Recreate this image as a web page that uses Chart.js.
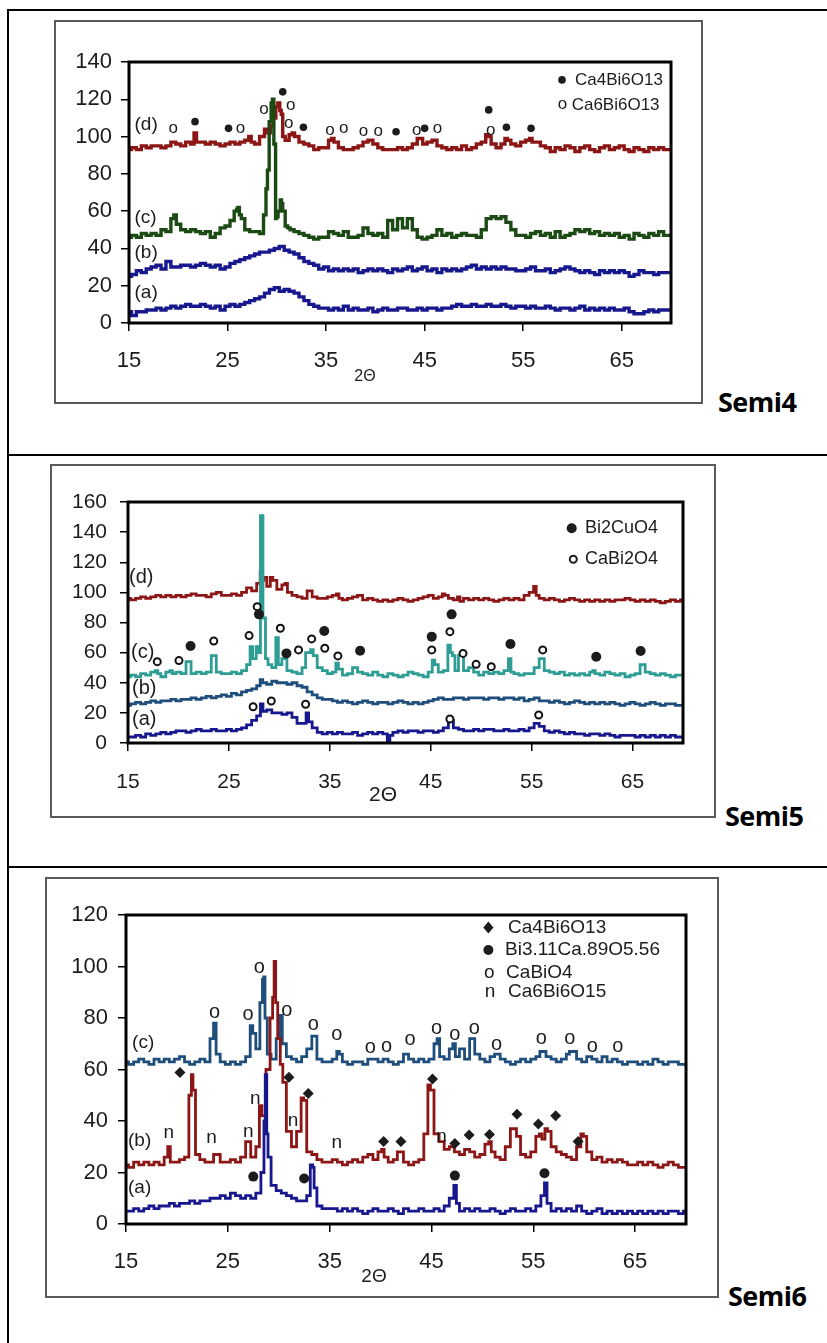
<!DOCTYPE html>
<html><head><meta charset="utf-8">
<script src="https://cdn.jsdelivr.net/npm/chart.js@4.4.1/dist/chart.umd.min.js"></script>
<style>
html,body{margin:0;padding:0;background:#fff;}
body{width:827px;height:1343px;position:relative;overflow:hidden;font-family:'Liberation Sans',Arial,sans-serif;}
.hl{position:absolute;background:#000;}
.box{position:absolute;border:2px solid #5a5a5a;box-sizing:border-box;}
canvas{position:absolute;}
.semi{position:absolute;font-family:'Open Sans',sans-serif;font-weight:700;font-size:27px;line-height:30px;color:#000;white-space:nowrap;letter-spacing:-0.5px;}
</style></head><body>
<canvas id="c1" width="649" height="384" style="left:54px;top:20px"></canvas>
<canvas id="c2" width="666" height="354" style="left:50px;top:464px"></canvas>
<canvas id="c3" width="674" height="421" style="left:45px;top:877px"></canvas>
<div class="box" style="left:54px;top:20px;width:649px;height:384px"></div>
<div class="box" style="left:50px;top:464px;width:666px;height:354px"></div>
<div class="box" style="left:45px;top:877px;width:674px;height:421px"></div>
<div class="hl" style="left:7px;top:9px;width:820px;height:2px"></div>
<div class="hl" style="left:7px;top:9px;width:2px;height:1334px"></div>
<div class="hl" style="left:7px;top:454px;width:820px;height:2px"></div>
<div class="hl" style="left:7px;top:866px;width:820px;height:2px"></div>
<div class="semi" style="left:718px;top:387px">Semi4</div>
<div class="semi" style="left:725px;top:801px">Semi5</div>
<div class="semi" style="left:728px;top:1281px">Semi6</div>
<script>
// ---------- axis ticks ----------
const xTicks = [15, 25, 35, 45, 55, 65];
const yTicksSemi4 = [0, 20, 40, 60, 80, 100, 120, 140];
const yTicksSemi5 = [0, 20, 40, 60, 80, 100, 120, 140, 160];
const yTicksSemi6 = [0, 20, 40, 60, 80, 100, 120];

// profiles are read at 2θ = 15, 15.5, 16 ... 70 ; peaks are extra [2θ, I] readings
const GRID_START = 15, GRID_STEP = 0.5;

// ---------- Semi4 ----------
const semi4_a = [6,4,6,6,7,7,8,7,8,9, 8,9,10,9,9,10,9,8,9,7, 9,10,9,10,11,12,13,14,16,18, 19,17,18,17,16,14,12,10,9,8,
  8,7,8,7,9,7,8,7,7,8, 6,7,8,7,7,8,8,7,7,8, 7,8,8,7,8,8,9,10,9,9, 10,9,9,10,9,9,10,9,8,9,
  9,8,9,8,8,9,8,7,8,8, 7,8,9,7,8,7,8,7,8,7, 7,8,6,5,5,6,7,6,7,7, 7];
const semi4_a_peaks = [];
const semi4_b = [25,26,28,27,29,30,31,29,33,30, 30,31,31,30,31,32,31,30,31,29, 30,32,33,34,35,36,37,38,38,39, 40,41,39,38,37,35,33,32,31,29,
  30,28,29,28,29,28,29,27,28,29, 28,29,28,27,29,28,29,30,28,29, 30,28,29,27,29,28,29,28,29,30, 31,29,30,29,30,29,30,29,29,28,
  28,29,30,28,28,29,27,28,29,30, 29,28,27,28,27,26,28,27,28,27, 28,27,25,26,28,27,27,26,27,27, 27];
const semi4_b_peaks = [];
const semi4_c = [46,47,46,48,47,48,47,50,49,56, 53,50,49,50,49,48,49,46,48,51, 52,55,61,56,50,49,49,48,72,118, 57,64,52,50,49,48,47,46,45,46,
  46,49,48,47,49,46,46,47,51,48, 47,48,46,55,50,56,51,56,50,46, 45,46,47,50,47,48,46,47,48,47, 47,46,50,56,57,56,57,54,50,47,
  47,46,48,49,47,48,46,49,46,47, 48,50,49,50,48,49,47,48,47,48, 46,47,45,48,47,46,48,47,49,47, 47];
const semi4_c_peaks = [[19.6,58],[25.85,60],[26.1,62],[26.3,58],[28.8,58],[29.1,82],[29.35,108],[29.6,120],[29.8,96],[29.95,56],[30.25,60],[30.45,66],[30.7,60],[31.2,51]];
const semi4_d = [93,94,93,95,94,95,95,94,95,97, 96,95,97,96,97,97,96,97,96,95, 96,97,96,97,98,97,96,100,104,106, 116,112,98,101,100,97,96,95,93,94,
  94,98,97,94,93,93,94,95,97,98, 96,94,93,93,93,94,93,94,96,99, 96,97,98,95,94,93,94,93,95,93, 94,96,97,100,96,94,96,98,96,95,
  97,98,97,97,95,94,92,94,93,95, 94,92,94,95,93,92,94,95,93,94, 95,93,92,94,93,92,94,93,94,93, 93];
const semi4_d_peaks = [[21.7,102],[27.3,100],[29.2,102],[29.8,110],[30.2,118],[30.4,114],[30.7,100],[31.6,102],[35.6,99],[44.6,99],[51.4,101],[53.3,99],[55.8,99]];
const semi4_Ca4Bi6O13 = [[21.7,108],[25.1,104.4],[30.6,124],[32.7,105],[42.1,102.6],[45.0,104.4],[51.5,114.3],[53.3,105],[55.8,104.4]];
const semi4_Ca6Bi6O13 = [[19.5,104.4],[26.3,104.4],[28.7,114.6],[31.4,116.4],[31.2,107],[35.4,103.5],[36.8,104.4],[38.8,102.6],[40.3,102.6],[44.2,103],[46.3,104.4],[51.7,103]];

// ---------- Semi5 ----------
const semi5_a = [4,4,5,4,6,5,6,7,6,7, 8,8,7,8,9,8,8,9,8,8, 9,8,9,10,12,15,18,21,22,20, 20,19,20,17,13,13,14,10,7,6,
  7,6,7,6,6,7,5,6,7,6, 7,6,5,7,8,7,8,8,7,8, 8,7,8,10,15,10,9,8,8,9, 8,9,9,8,8,9,8,8,9,8,
  10,13,11,8,7,8,7,6,7,6, 6,5,6,6,5,6,5,4,5,5, 5,4,5,4,5,4,5,4,5,4, 4];
const semi5_a_peaks = [[28.25,26],[32.8,20],[40.9,1]];
const semi5_b = [25,26,27,26,27,28,27,28,28,29, 28,29,29,30,29,30,31,30,31,32, 31,33,32,34,35,36,38,40,39,41, 40,40,39,40,38,37,34,32,30,29,
  29,28,27,28,27,26,27,28,27,26, 27,27,26,27,28,27,26,27,26,27, 28,29,30,29,29,30,30,29,30,30, 30,29,30,30,29,30,30,29,30,28,
  29,30,28,28,27,28,27,26,27,28, 27,26,27,26,27,26,27,26,25,26, 27,26,25,26,27,26,25,26,26,25, 25];
const semi5_b_peaks = [[28.2,42]];
const semi5_c = [44,45,44,46,45,47,46,44,47,46, 47,46,54,46,47,46,47,58,47,46, 46,47,46,48,52,56,60,83,52,50, 52,56,48,47,46,50,60,58,50,48,
  46,47,49,45,46,50,47,46,45,47, 45,44,46,45,44,45,47,46,45,44, 47,52,47,48,60,48,58,48,50,47, 45,47,46,47,46,48,47,46,45,46,
  46,50,56,48,47,46,47,45,46,45, 46,45,47,46,45,47,46,45,46,44, 45,46,52,47,46,45,46,45,44,45, 45];
const semi5_c_peaks = [[17.9,48],[19.3,48],[27.2,64],[27.9,64],[28.25,151],[28.75,56],[29.8,70],[32.7,60],[33.2,62],[35.7,53],[45.3,55],[46.9,65],[47.3,58],[52.9,56],[61.1,48]];
const semi5_d = [96,95,96,97,96,97,98,97,98,97, 98,97,98,99,98,98,97,99,100,98, 98,99,98,100,103,101,106,110,104,108, 102,105,100,98,97,96,101,97,96,96,
  97,98,96,95,96,97,98,95,96,95, 94,95,94,95,96,95,94,95,96,97, 98,96,97,98,96,95,94,96,95,96, 95,96,95,94,95,96,95,96,95,98,
  100,98,96,95,96,95,94,95,96,95, 94,95,94,95,94,95,94,95,95,96, 95,94,95,94,95,94,93,94,95,94, 95];
const semi5_d_peaks = [[28.2,114],[28.4,108],[29.2,110],[30.6,106],[35.8,99],[46.3,99],[47.8,97],[55.4,104]];
const semi5_Bi2CuO4 = [[21.2,64.4],[27.98,85.4],[30.7,59.5],[34.45,74.4],[38.0,61.3],[45.1,70.6],[47.07,85.4],[52.9,65.7],[61.4,57.3],[65.8,61.1]];
const semi5_CaBi2O4 = [[17.9,54],[20.05,54.7],[23.5,67.7],[27.0,71.3],[27.8,90.5],[30.1,76.2],[31.9,61.8],[33.2,69.1],[34.5,62.9],[35.8,57.8],[27.4,24.1],[29.2,27.9],[32.6,25.7],[45.1,61.8],[46.9,73.9],[48.2,59.5],[49.5,52.2],[51.0,50.7],[56.1,61.8],[46.9,15.9],[55.7,18.6]];

// ---------- Semi6 ----------
const semi6_a = [5,5,6,5,6,7,6,7,7,8, 7,8,8,9,8,9,9,10,10,11, 10,12,11,10,11,10,12,20,26,15, 13,12,11,10,9,9,11,14,7,6,
  6,6,5,6,5,6,5,4,5,6, 5,5,6,5,4,6,5,5,6,5, 5,6,5,7,10,8,5,6,5,6, 5,5,6,5,4,5,6,5,5,6,
  5,7,11,8,5,6,5,6,5,7, 5,4,5,6,4,5,4,5,4,5, 4,5,4,5,4,5,4,5,5,4, 5];
const semi6_a_peaks = [[28.6,40],[28.75,58],[28.9,35],[33.2,23],[33.45,22],[47.4,15],[56.2,16]];
const semi6_b = [23,22,24,23,24,23,24,23,26,24, 24,25,26,58,27,25,24,24,27,24, 24,25,24,26,32,26,30,42,60,88, 72,55,36,30,36,48,28,27,25,24,
  24,25,24,23,24,25,24,26,27,25, 28,26,24,25,28,24,23,24,25,35, 52,35,32,29,30,28,27,29,28,26, 27,31,28,26,25,30,37,34,27,26,
  28,34,33,36,30,28,27,26,25,30, 34,28,25,26,24,25,24,25,24,23, 23,24,23,24,23,22,23,24,23,22, 22];
const semi6_b_peaks = [[19.2,30],[21.35,50],[21.65,52],[23.7,27],[28.2,46],[29.3,80],[29.6,102],[29.8,86],[30.3,62],[32.4,49],[40.2,29],[41.8,28],[44.8,54],[50.75,32],[53.2,37],[55.7,35],[56.3,37],[59.85,35]];
const semi6_c = [63,62,63,64,63,62,64,63,64,63, 64,65,63,62,63,64,63,72,66,63, 62,63,62,63,65,74,68,95,66,64, 72,70,65,64,63,65,68,73,64,63,
  63,64,66,63,62,63,63,62,64,64, 63,64,63,62,63,66,64,63,64,63, 64,70,65,64,68,65,68,64,72,66, 64,63,65,66,64,63,62,63,64,63,
  64,65,67,65,64,63,64,66,67,64, 63,65,64,63,65,63,64,63,62,63, 63,62,63,62,64,63,62,63,63,62, 62];
const semi6_c_peaks = [[23.7,78],[27.4,77],[28.3,86],[28.55,96],[28.75,80],[30.2,81],[35.9,67],[45.6,72],[47.2,70],[51.4,66],[55.8,67],[58.6,67]];
const semi6_Ca4Bi6O13 = [[20.3,58.8],[31.0,57],[32.9,50.7],[40.3,32],[42.0,32],[45.1,56.3],[47.3,31.3],[48.7,34.6],[50.7,34.8],[53.4,42.6],[55.5,38.8],[57.2,42],[59.4,32]];
const semi6_Bi311Ca89 = [[27.5,18.4],[32.5,17.7],[47.3,18.8],[56.1,19.7]];
const semi6_CaBiO4 = [[23.7,82.2],[27.0,81.4],[28.1,99.5],[30.8,82.7],[33.4,77.5],[35.7,73.4],[39.0,68.5],[40.6,68.9],[42.9,71.5],[45.5,75.7],[47.3,73.4],[49.2,75.7],[51.4,69.8],[55.8,71.8],[58.6,71.8],[60.8,68.9],[63.3,68.9]];
const semi6_Ca6Bi6O15 = [[19.2,35.2],[23.4,33.3],[27.0,35.8],[27.7,48.4],[31.4,40],[35.7,31.3],[46.0,33.9]];

// ---------- helpers ----------
function series(profile, peaks) {
  const p = profile.map((v, i) => ({x: GRID_START + GRID_STEP * i, y: v}));
  peaks.forEach(q => p.push({x: q[0], y: q[1]}));
  p.sort((a, b) => a.x - b.x);
  return p;
}
const toPts = arr => arr.map(q => ({x: q[0], y: q[1]}));
function lineDS(data, color, w, order) {
  return {data, showLine: true, stepped: 'middle', borderColor: color, borderWidth: w, pointRadius: 0, pointHoverRadius: 0, tension: 0, fill: false, order, borderJoinStyle: 'miter'};
}
function markDS(data, style, r, fill, bw) {
  return {data, showLine: false, pointStyle: style, pointRadius: r, pointHoverRadius: r, pointBackgroundColor: fill, pointBorderColor: '#111', pointBorderWidth: bw, order: 0};
}
const RED = '#8c1616', GREEN = '#1c4a14', NAVY = '#18188e', TEAL = '#2e9d94', STEEL = '#1f4e7c', INK = '#1c1c1c';
const SANS = "'Liberation Sans', Arial, sans-serif";

function drawMark(ctx, m, x, y) {
  ctx.fillStyle = INK; ctx.strokeStyle = INK;
  if (m.type === 'dot') { ctx.beginPath(); ctx.arc(x, y, m.r, 0, Math.PI * 2); ctx.fill(); }
  else if (m.type === 'ring') { ctx.beginPath(); ctx.arc(x, y, m.r, 0, Math.PI * 2); ctx.fillStyle = '#fff'; ctx.fill(); ctx.lineWidth = 2; ctx.stroke(); }
  else if (m.type === 'diamond') { ctx.beginPath(); ctx.moveTo(x, y - m.r); ctx.lineTo(x + m.r * 0.85, y); ctx.lineTo(x, y + m.r); ctx.lineTo(x - m.r * 0.85, y); ctx.closePath(); ctx.fill(); }
  else if (m.type === 'glyph') { ctx.font = m.font; ctx.textAlign = 'center'; ctx.textBaseline = 'alphabetic'; ctx.fillText(m.ch, x, y + m.xh / 2); }
}

const annotPlugin = {
  id: 'annot',
  afterDatasetsDraw(chart, args, o) {
    const {ctx, chartArea: a} = chart;
    const xs = chart.scales.x, ys = chart.scales.y;
    const P = (x, y) => [xs.getPixelForValue(x), ys.getPixelForValue(y)];
    ctx.save();
    ctx.lineWidth = 3; ctx.strokeStyle = '#000';
    ctx.strokeRect(a.left, a.top, a.right - a.left, a.bottom - a.top);
    (o.glyphs || []).forEach(g => g.pts.forEach(q => { const [px, py] = P(q[0], q[1]); drawMark(ctx, g, px, py); }));
    (o.marks || []).forEach(m => { const [px, py] = P(m.x, m.y); drawMark(ctx, m, px, py); });
    (o.labels || []).forEach(l => {
      ctx.fillStyle = INK; ctx.font = l.font; ctx.textAlign = l.align || 'left'; ctx.textBaseline = 'middle';
      const [px, py] = P(l.x, l.y); ctx.fillText(l.t, px, py);
    });
    ctx.restore();
  }
};

function makeChart(id, c) {
  const grid = {drawOnChartArea: false, drawTicks: true, tickLength: 8, color: '#000', lineWidth: 1.5};
  return new Chart(document.getElementById(id), {
    type: 'scatter',
    data: {datasets: c.datasets},
    options: {
      responsive: false, animation: false, devicePixelRatio: 1, events: [],
      layout: {padding: {left: 5, top: c.padTop, right: c.padRight, bottom: 5}},
      plugins: {legend: {display: false}, tooltip: {enabled: false}, annot: c.annot},
      scales: {
        x: {type: 'linear', min: 15, max: 70,
          afterBuildTicks: s => { s.ticks = xTicks.map(v => ({value: v})); },
          afterFit: s => { s.height = c.xH; },
          ticks: {font: c.tickFont, color: INK, padding: c.xPad, maxRotation: 0, autoSkip: false},
          grid, border: {display: false}},
        y: {type: 'linear', min: 0, max: c.yTicks[c.yTicks.length - 1],
          afterBuildTicks: s => { s.ticks = c.yTicks.map(v => ({value: v})); },
          afterFit: s => { s.width = c.yW; },
          ticks: {font: c.tickFont, color: INK, padding: c.yPad, autoSkip: false},
          grid, border: {display: false}}
      }
    },
    plugins: [annotPlugin]
  });
}

// ---------- Semi4 ----------
makeChart('c1', {
  padTop: 42, padRight: 32, yW: 70, xH: 76, yPad: 9, xPad: 17,
  yTicks: yTicksSemi4,
  tickFont: {family: SANS, size: 22},
  datasets: [
    markDS(toPts(semi4_Ca4Bi6O13), 'circle', 3.8, INK, 0),
    lineDS(series(semi4_a, semi4_a_peaks), NAVY, 3.4, 1),
    lineDS(series(semi4_b, semi4_b_peaks), NAVY, 3.4, 2),
    lineDS(series(semi4_c, semi4_c_peaks), GREEN, 3.4, 3),
    lineDS(series(semi4_d, semi4_d_peaks), RED, 3.4, 4)
  ],
  annot: {
    glyphs: [{type: 'glyph', ch: 'o', font: '17px ' + SANS, xh: 9, pts: semi4_Ca6Bi6O13}],
    marks: [{type: 'dot', r: 3.8, x: 58.94, y: 130.4}, {type: 'glyph', ch: 'o', font: '17px ' + SANS, xh: 9, x: 59.0, y: 117}],
    labels: [
      {t: 'Ca4Bi6O13', x: 60.26, y: 130.4, font: '17px ' + SANS},
      {t: 'Ca6Bi6O13', x: 59.92, y: 117, font: '17px ' + SANS},
      {t: '(d)', x: 15.56, y: 106.2, font: '19px ' + SANS},
      {t: '(c)', x: 15.56, y: 56.3, font: '19px ' + SANS},
      {t: '(b)', x: 15.56, y: 37.6, font: '19px ' + SANS},
      {t: '(a)', x: 15.56, y: 16.1, font: '19px ' + SANS},
      {t: '2Θ', x: 38.95, y: -29, font: '16px ' + SANS, align: 'center'}
    ]
  }
});

// ---------- Semi5 ----------
makeChart('c2', {
  padTop: 38, padRight: 33, yW: 73, xH: 70, yPad: 13, xPad: 19,
  yTicks: yTicksSemi5,
  tickFont: {family: SANS, size: 21},
  datasets: [
    markDS(toPts(semi5_Bi2CuO4), 'circle', 5, INK, 0),
    markDS(toPts(semi5_CaBi2O4), 'circle', 3.5, '#fff', 2),
    lineDS(series(semi5_a, semi5_a_peaks), NAVY, 2.8, 1),
    lineDS(series(semi5_b, semi5_b_peaks), STEEL, 2.8, 2),
    lineDS(series(semi5_c, semi5_c_peaks), TEAL, 2.8, 3),
    lineDS(series(semi5_d, semi5_d_peaks), RED, 2.8, 4)
  ],
  annot: {
    marks: [{type: 'dot', r: 5, x: 58.97, y: 142.6}, {type: 'ring', r: 3.5, x: 59.13, y: 122}],
    labels: [
      {t: 'Bi2CuO4', x: 60.29, y: 142.6, font: '18px ' + SANS},
      {t: 'CaBi2O4', x: 60.29, y: 122, font: '18px ' + SANS},
      {t: '(d)', x: 15.1, y: 110.2, font: '20px ' + SANS},
      {t: '(c)', x: 15.3, y: 60.4, font: '20px ' + SANS},
      {t: '(b)', x: 15.4, y: 36.5, font: '20px ' + SANS},
      {t: '(a)', x: 15.4, y: 15.3, font: '20px ' + SANS},
      {t: '2Θ', x: 40.27, y: -34.5, font: '21px ' + SANS, align: 'center'}
    ]
  }
});

// ---------- Semi6 ----------
makeChart('c3', {
  padTop: 38, padRight: 33, yW: 76, xH: 69, yPad: 10, xPad: 17,
  yTicks: yTicksSemi6,
  tickFont: {family: SANS, size: 22},
  datasets: [
    markDS(toPts(semi6_Ca4Bi6O13), 'rectRot', 5.5, INK, 0),
    markDS(toPts(semi6_Bi311Ca89), 'circle', 5, INK, 0),
    lineDS(series(semi6_a, semi6_a_peaks), NAVY, 2.8, 1),
    lineDS(series(semi6_b, semi6_b_peaks), RED, 2.8, 2),
    lineDS(series(semi6_c, semi6_c_peaks), STEEL, 2.8, 3)
  ],
  annot: {
    glyphs: [
      {type: 'glyph', ch: 'o', font: '20px ' + SANS, xh: 10.5, pts: semi6_CaBiO4},
      {type: 'glyph', ch: 'n', font: '19px ' + SANS, xh: 10, pts: semi6_Ca6Bi6O15}
    ],
    marks: [
      {type: 'diamond', r: 6, x: 50.59, y: 115.1},
      {type: 'dot', r: 5, x: 50.59, y: 106.4},
      {type: 'glyph', ch: 'o', font: '19px ' + SANS, xh: 10, x: 50.69, y: 97.4},
      {type: 'glyph', ch: 'n', font: '19px ' + SANS, xh: 10, x: 50.76, y: 90}
    ],
    labels: [
      {t: 'Ca4Bi6O13', x: 52.52, y: 115.1, font: '19px ' + SANS},
      {t: 'Bi3.11Ca.89O5.56', x: 52.23, y: 106.4, font: '19px ' + SANS},
      {t: 'CaBiO4', x: 52.33, y: 97.4, font: '19px ' + SANS},
      {t: 'Ca6Bi6O15', x: 52.52, y: 90, font: '19px ' + SANS},
      {t: '(c)', x: 15.6, y: 70.3, font: '19px ' + SANS},
      {t: '(b)', x: 15.2, y: 32.2, font: '19px ' + SANS},
      {t: '(a)', x: 15.2, y: 14.0, font: '19px ' + SANS},
      {t: '2Θ', x: 39.36, y: -20.6, font: '19px ' + SANS, align: 'center'}
    ]
  }
});
</script>
</body></html>
